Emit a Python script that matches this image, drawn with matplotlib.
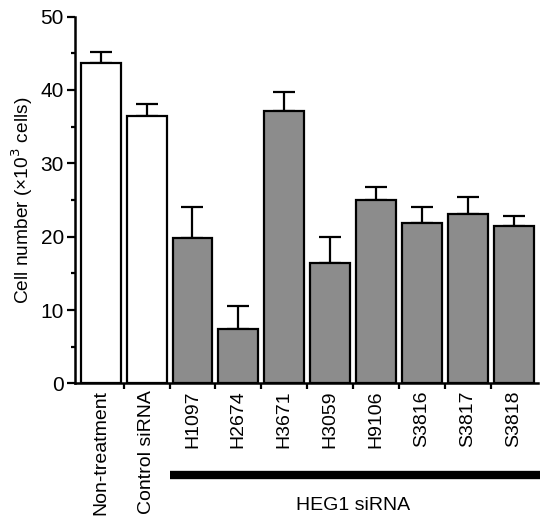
import numpy as np
import matplotlib
matplotlib.use('Agg')
import matplotlib.pyplot as plt
from matplotlib.ticker import MultipleLocator, FixedLocator, NullFormatter

plt.rcParams['font.family'] = ['Liberation Sans', 'DejaVu Sans']

groups = ['Non-treatment', 'Control siRNA', 'H1097', 'H2674', 'H3671',
          'H3059', 'H9106', 'S3816', 'S3817', 'S3818']
means = [43.6, 36.4, 19.8, 7.4, 37.1, 16.4, 25.0, 21.8, 23.1, 21.5]
errors = [1.5, 1.7, 4.2, 3.1, 2.6, 3.6, 1.8, 2.3, 2.3, 1.3]
fills = ['white', 'white'] + ['#8c8c8c'] * 8

fig = plt.figure(figsize=(5.4, 5.16), dpi=100)
ax = fig.add_axes([0.139, 0.257, 0.858, 0.711])

x = np.arange(len(groups))
ax.bar(x, means, width=0.87, color=fills, edgecolor='black', linewidth=1.6, zorder=2)
ax.errorbar(x, means, yerr=[np.zeros(len(errors)), errors], fmt='none',
            ecolor='black', elinewidth=1.6, capsize=8, capthick=1.6, zorder=1)

ax.set_xlim(-0.56, 9.54)
ax.set_ylim(0, 50)
ax.yaxis.set_major_locator(MultipleLocator(10))
ax.yaxis.set_minor_locator(MultipleLocator(5))
ax.tick_params(axis='y', which='major', length=6, width=1.6, labelsize=15, pad=2)
ax.tick_params(axis='y', which='minor', length=3, width=1.6)

# ticks sit between bars, labels centered under bars
ax.xaxis.set_major_locator(FixedLocator(x))
ax.set_xticklabels(groups, rotation=90, fontsize=14, va='top')
ax.tick_params(axis='x', which='major', length=0, pad=5)
ax.xaxis.set_minor_locator(FixedLocator(np.arange(0.5, 9.5, 1.0)))
ax.xaxis.set_minor_formatter(NullFormatter())
ax.tick_params(axis='x', which='minor', length=4, width=1.6)

for side in ['top', 'right']:
    ax.spines[side].set_visible(False)
for side in ['left', 'bottom']:
    ax.spines[side].set_linewidth(1.8)

ax.set_ylabel('Cell number (×10$^3$ cells)', fontsize=13.8, labelpad=4)

trans = ax.get_xaxis_transform()
ax.plot([1.52, 9.6], [-0.25, -0.25], color='black', linewidth=6,
        solid_capstyle='butt', transform=trans, clip_on=False)
ax.text(5.5, -0.333, 'HEG1 siRNA', ha='center', va='center', fontsize=14,
        transform=trans)

plt.savefig('out.png', dpi=100)
plt.close()
